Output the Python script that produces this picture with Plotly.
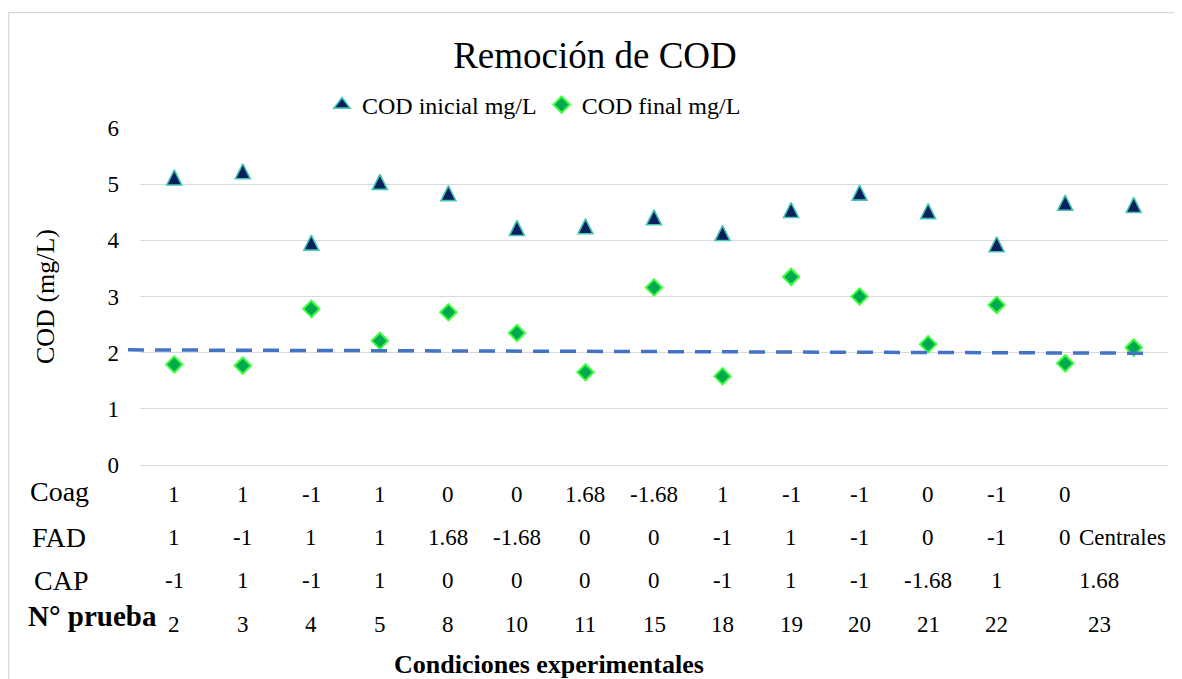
import plotly.graph_objects as go

# ---------------- data ----------------
pruebas = ["2", "3", "4", "5", "8", "10", "11", "15", "18", "19", "20", "21", "22", "23", "Centrales"]
cod_inicial = [5.12, 5.23, 3.96, 5.04, 4.84, 4.22, 4.25, 4.41, 4.13, 4.54, 4.85, 4.52, 3.93, 4.67, 4.63]
cod_final = [1.79, 1.77, 2.78, 2.21, 2.72, 2.35, 1.65, 3.16, 1.58, 3.35, 3.00, 2.15, 2.85, 1.81, 2.09]

coag_row = ["1", "1", "-1", "1", "0", "0", "1.68", "-1.68", "1", "-1", "-1", "0", "-1", "0", ""]
fad_row = ["1", "-1", "1", "1", "1.68", "-1.68", "0", "0", "-1", "1", "-1", "0", "-1", "0", "Centrales"]
cap_row = ["-1", "1", "-1", "1", "0", "0", "0", "0", "-1", "1", "-1", "-1.68", "1", "1.68"]
prueba_row = ["2", "3", "4", "5", "8", "10", "11", "15", "18", "19", "20", "21", "22", "23"]
row_labels = ["Coag", "FAD", "CAP", "N° prueba"]

limite_x = [-0.675, 14.27]
limite_y = [2.05, 1.99]

y_ticks = [0, 1, 2, 3, 4, 5, 6]

# ---------------- layout geometry ----------------
# The page body adds an 8px margin; positions below are screen pixels.
OFF = 8
FONT = "Liberation Serif, Times New Roman, serif"
W, H = 1182 - OFF, 679 - OFF
PLOT_L, PLOT_R, PLOT_T, PLOT_B = 140, 1168, 128, 465   # screen px of plot area
PAPER_L = 128                                           # line overhang start
ML = PAPER_L - OFF
MR = W - (PLOT_R - OFF)
MT = PLOT_T - OFF
MB = H - (PLOT_B - OFF)
pw = PLOT_R - PAPER_L
ph = PLOT_B - PLOT_T
dom0 = (PLOT_L - PAPER_L) / pw
n = len(pruebas)
x = list(range(n))
unit = (PLOT_R - PLOT_L) / n


def py2paper(py):
    return (PLOT_B - py) / ph


def px2paper(px):
    return (px - PAPER_L) / pw


TRI = 15  # equilateral-looking triangle (arrow symbol rotated, centred via standoff)
TRI_FILL, TRI_LINE = "#0b1f5c", "#44c8b4"
DIA_FILL, DIA_LINE = "#00a84f", "#3cff3c"

fig = go.Figure()

# legend entry for the triangles (the plotted series below uses a rotated arrow symbol)
fig.add_trace(go.Scatter(
    x=[None], y=[None], mode="markers", name="COD inicial mg/L", legendgroup="ini",
    marker=dict(symbol="triangle-up", size=14, color=TRI_FILL, line=dict(color=TRI_LINE, width=1.6)),
    hoverinfo="skip",
))
fig.add_trace(go.Scatter(
    x=x, y=cod_inicial, mode="markers", name="COD inicial mg/L", legendgroup="ini",
    showlegend=False,
    marker=dict(symbol="arrow-down", angle=180, standoff=TRI / 2, size=TRI, color=TRI_FILL,
                line=dict(color=TRI_LINE, width=1.6)),
    xaxis="x", yaxis="y", cliponaxis=False,
))
fig.add_trace(go.Scatter(
    x=x, y=cod_final, mode="markers", name="COD final mg/L",
    marker=dict(symbol="diamond", size=12.5, color=DIA_FILL,
                line=dict(color=DIA_LINE, width=2)),
    xaxis="x", yaxis="y", cliponaxis=False,
))
fig.add_trace(go.Scatter(
    x=limite_x, y=limite_y, mode="lines", showlegend=False, hoverinfo="skip",
    line=dict(color="#4472c4", width=3.5, dash="16px,11px"),
    xaxis="x2", yaxis="y2",
))

ann = []
rows = [(coag_row, 494), (fad_row, 537), (cap_row, 580), (prueba_row, 624)]
for vals, py in rows:
    for i, v in enumerate(vals):
        if v == "":
            continue
        xi = i
        xshift = 0
        if len(vals) == 14 and i == 13:
            xi = 13.5
        if v == "Centrales":
            xshift = -11
        ann.append(dict(x=xi, y=py2paper(py), xref="x", yref="paper", text=v,
                        showarrow=False, xanchor="center", yanchor="middle", xshift=xshift,
                        font=dict(family=FONT, size=23, color="#000")))

label_pos = [(28, 491, False), (30, 537, False), (32, 580, False), (26, 616, True)]
for lab, (lx, ly, bold) in zip(row_labels, label_pos):
    ann.append(dict(x=px2paper(lx), y=py2paper(ly), xref="paper", yref="paper",
                    text=f"<b>{lab}</b>" if bold else lab, showarrow=False,
                    xanchor="left", yanchor="middle",
                    font=dict(family=FONT, size=29 if bold else 28, color="#000")))

ann.append(dict(x=px2paper(548.5), y=py2paper(664.5), xref="paper", yref="paper",
                text="<b>Condiciones experimentales</b>", showarrow=False,
                xanchor="center", yanchor="middle",
                font=dict(family=FONT, size=26, color="#000")))

shapes = [dict(type="rect", xref="paper", yref="paper",
               x0=px2paper(8.7), x1=px2paper(1195), y0=py2paper(700), y1=py2paper(12.7),
               line=dict(color="#d9d9d9", width=1.3), fillcolor="rgba(0,0,0,0)", layer="below")]

fig.update_layout(
    width=W, height=H,
    margin=dict(l=ML, r=MR, t=MT, b=MB, pad=0),
    paper_bgcolor="white", plot_bgcolor="rgba(0,0,0,0)",
    font=dict(family=FONT, color="#000"),
    title=dict(text="Remoción de COD", x=(595 - OFF) / W, xanchor="center",
               y=1 - (55 - OFF) / H, yanchor="middle",
               font=dict(family=FONT, size=37, color="#000")),
    showlegend=True,
    legend=dict(orientation="h", x=px2paper(322), xanchor="left",
                y=py2paper(105), yanchor="middle",
                font=dict(family=FONT, size=24, color="#000"),
                bgcolor="rgba(0,0,0,0)", itemwidth=30, tracegroupgap=0,
                groupclick="togglegroup"),
    xaxis=dict(domain=[dom0, 1], range=[-0.5, n - 0.5], showgrid=False, zeroline=False,
               showticklabels=False, ticks="", showline=False, fixedrange=True),
    yaxis=dict(range=[0, 6], tickvals=y_ticks, showgrid=True, gridcolor="#d9d9d9", gridwidth=1.3,
               zeroline=True, zerolinecolor="#d9d9d9", zerolinewidth=1.3,
               showline=False, ticks="", ticklabelstandoff=20,
               tickfont=dict(family=FONT, size=23, color="#000"),
               title=dict(text="COD (mg/L)", standoff=45,
                          font=dict(family=FONT, size=26, color="#000"))),
    xaxis2=dict(domain=[0, 1], range=[-0.5 - (PLOT_L - PAPER_L) / unit, n - 0.5],
                visible=False, anchor="y2", fixedrange=True),
    yaxis2=dict(domain=[0, 1], range=[0, 6], visible=False, anchor="x2", fixedrange=True),
    annotations=ann,
    shapes=shapes,
)

fig.write_html("out.html")
